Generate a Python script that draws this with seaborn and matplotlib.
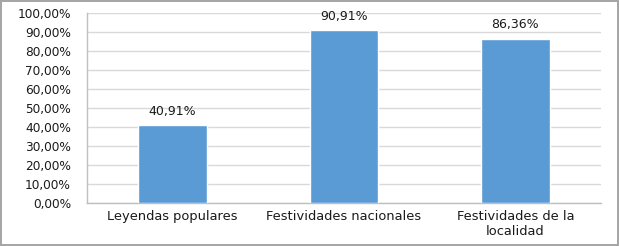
import pandas as pd
import matplotlib.pyplot as plt
import seaborn as sns
from matplotlib.ticker import FuncFormatter

categorias = ['Leyendas populares', 'Festividades nacionales', 'Festividades de la\nlocalidad']
porcentajes = [40.91, 90.91, 86.36]
etiquetas = ['40,91%', '90,91%', '86,36%']

df = pd.DataFrame({'categoria': categorias, 'valor': porcentajes})

sns.set_style('white')
plt.rcParams['font.family'] = ['DejaVu Sans']

fig = plt.figure(figsize=(6.19, 2.46), dpi=100)
fig.patch.set_edgecolor('#a6a6a6')
fig.patch.set_linewidth(1.5)
ax = fig.add_axes([87 / 619, 43 / 246, 514 / 619, 190 / 246])

sns.barplot(data=df, x='categoria', y='valor', color='#5b9bd5', saturation=1,
            width=0.4, ax=ax, zorder=3)

ax.set_ylim(0, 100)
ax.set_yticks(range(0, 101, 10))
ax.yaxis.set_major_formatter(FuncFormatter(lambda v, p: f'{v:.2f}%'.replace('.', ',')))
ax.grid(axis='y', color='#d9d9d9', linewidth=1, zorder=0)
ax.set_xlabel('')
ax.set_ylabel('')

for s in ['top', 'right']:
    ax.spines[s].set_visible(False)
for s in ['left', 'bottom']:
    ax.spines[s].set_color('#bfbfbf')
    ax.spines[s].set_linewidth(1)

ax.tick_params(axis='both', length=0, colors='#1a1a1a')
ax.tick_params(axis='y', pad=11.5, labelsize=8.7)
ax.tick_params(axis='x', pad=5, labelsize=9.4)
for lbl in ax.get_xticklabels():
    lbl.set_linespacing(1.2)

for i, (v, t) in enumerate(zip(porcentajes, etiquetas)):
    ax.text(i, v + 4, t, ha='center', va='bottom', fontsize=9, color='#1a1a1a')

plt.savefig('out.png', dpi=100)
